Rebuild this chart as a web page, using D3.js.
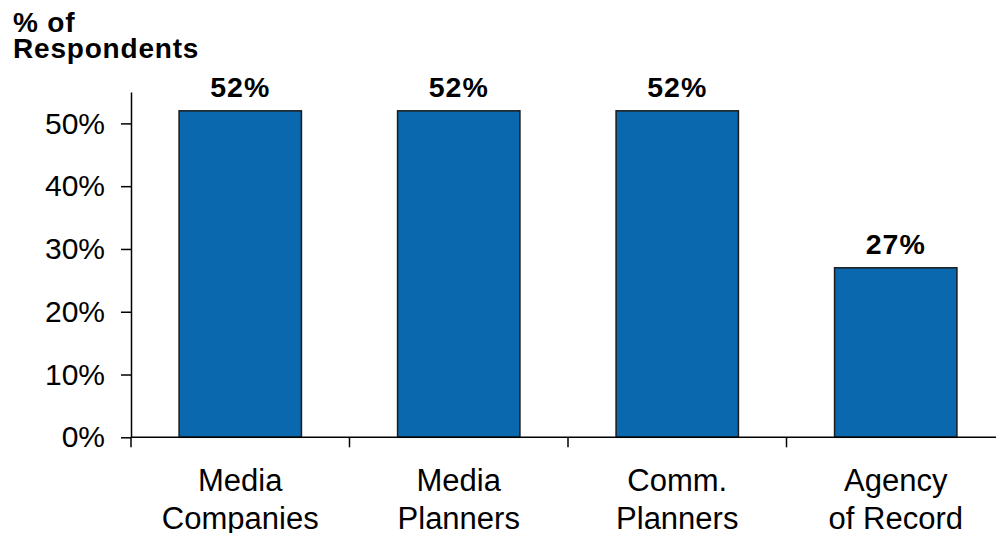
<!DOCTYPE html>
<html>
<head>
<meta charset="utf-8">
<script src="https://cdn.jsdelivr.net/npm/d3@7"></script>
<style>
  html, body { margin: 0; padding: 0; background: #fff; }
  svg { display: block; font-family: Arial, "Liberation Sans", Helvetica, sans-serif; }
</style>
</head>
<body>
<svg id="chart" width="996" height="533"></svg>
<script>
// Share of respondents by group
const categories = [["Media", "Companies"], ["Media", "Planners"], ["Comm.", "Planners"], ["Agency", "of Record"]];
const values = [52, 52, 52, 27];
const yTicks = [0, 10, 20, 30, 40, 50];
const titleLines = ["% of", "Respondents"];

const svg = d3.select("#chart");
const x0 = 131, xEnd = 1005, yBase = 437.3, yTop = 92;

const x = d3.scaleBand()
  .domain(d3.range(categories.length))
  .range([x0, xEnd])
  .paddingInner(0.44)
  .paddingOuter(0.22);

const xTickScale = d3.scaleBand()
  .domain(d3.range(categories.length))
  .range([x0, xEnd]);

const y = d3.scaleLinear().domain([0, 55]).range([yBase, yTop]);

// bars
svg.append("g").selectAll("rect")
  .data(values)
  .join("rect")
  .attr("x", (d, i) => x(i))
  .attr("y", d => y(d))
  .attr("width", x.bandwidth())
  .attr("height", d => yBase - y(d))
  .attr("fill", "#0a69ae")
  .attr("stroke", "#1b1b1b")
  .attr("stroke-width", 1.5);

// value labels
svg.append("g").selectAll("text")
  .data(values)
  .join("text")
  .attr("x", (d, i) => x(i) + x.bandwidth() / 2)
  .attr("y", d => y(d) - 13.5)
  .attr("text-anchor", "middle")
  .attr("font-weight", "bold")
  .attr("font-size", 28.5)
  .attr("letter-spacing", 1)
  .attr("fill", "#000")
  .text(d => d + "%");

// y axis
const yAxis = d3.axisLeft(y)
  .tickValues(yTicks)
  .tickFormat(d => d + "%")
  .tickSize(10)
  .tickPadding(16)
  .tickSizeOuter(0);

const gy = svg.append("g")
  .attr("transform", `translate(${x0},0)`)
  .call(yAxis);
gy.select(".domain").attr("stroke", "#000").attr("stroke-width", 1.5);
gy.selectAll(".tick line").attr("stroke", "#000").attr("stroke-width", 1.5);
gy.selectAll(".tick text")
  .attr("font-size", 30)
  .attr("font-family", "Arial, 'Liberation Sans', sans-serif")
  .attr("fill", "#000");

// x axis: ticks sit on the category boundaries
const boundaries = d3.range(categories.length).map(i => xTickScale(i));
const gx = svg.append("g");
gx.append("line")
  .attr("x1", x0).attr("x2", xEnd)
  .attr("y1", yBase).attr("y2", yBase)
  .attr("stroke", "#000").attr("stroke-width", 1.5);
gx.selectAll("line.tick")
  .data(boundaries)
  .join("line")
  .attr("class", "tick")
  .attr("x1", d => d).attr("x2", d => d)
  .attr("y1", yBase).attr("y2", yBase + 10)
  .attr("stroke", "#000").attr("stroke-width", 1.5);

// category labels
const catText = svg.append("g").selectAll("text")
  .data(categories)
  .join("text")
  .attr("text-anchor", "middle")
  .attr("font-size", 31)
  .attr("fill", "#000");
catText.selectAll("tspan")
  .data((d, i) => d.map(t => ({ t, i })))
  .join("tspan")
  .attr("x", d => x(d.i) + x.bandwidth() / 2)
  .attr("y", (d, j) => 491 + j * 37.5)
  .text(d => d.t);

// axis title
svg.append("g").selectAll("text")
  .data(titleLines)
  .join("text")
  .attr("x", 13)
  .attr("y", (d, i) => 31.5 + i * 26.5)
  .attr("font-weight", "bold")
  .attr("font-size", 28)
  .attr("letter-spacing", 0.8)
  .attr("fill", "#000")
  .text(d => d);
</script>
</body>
</html>
